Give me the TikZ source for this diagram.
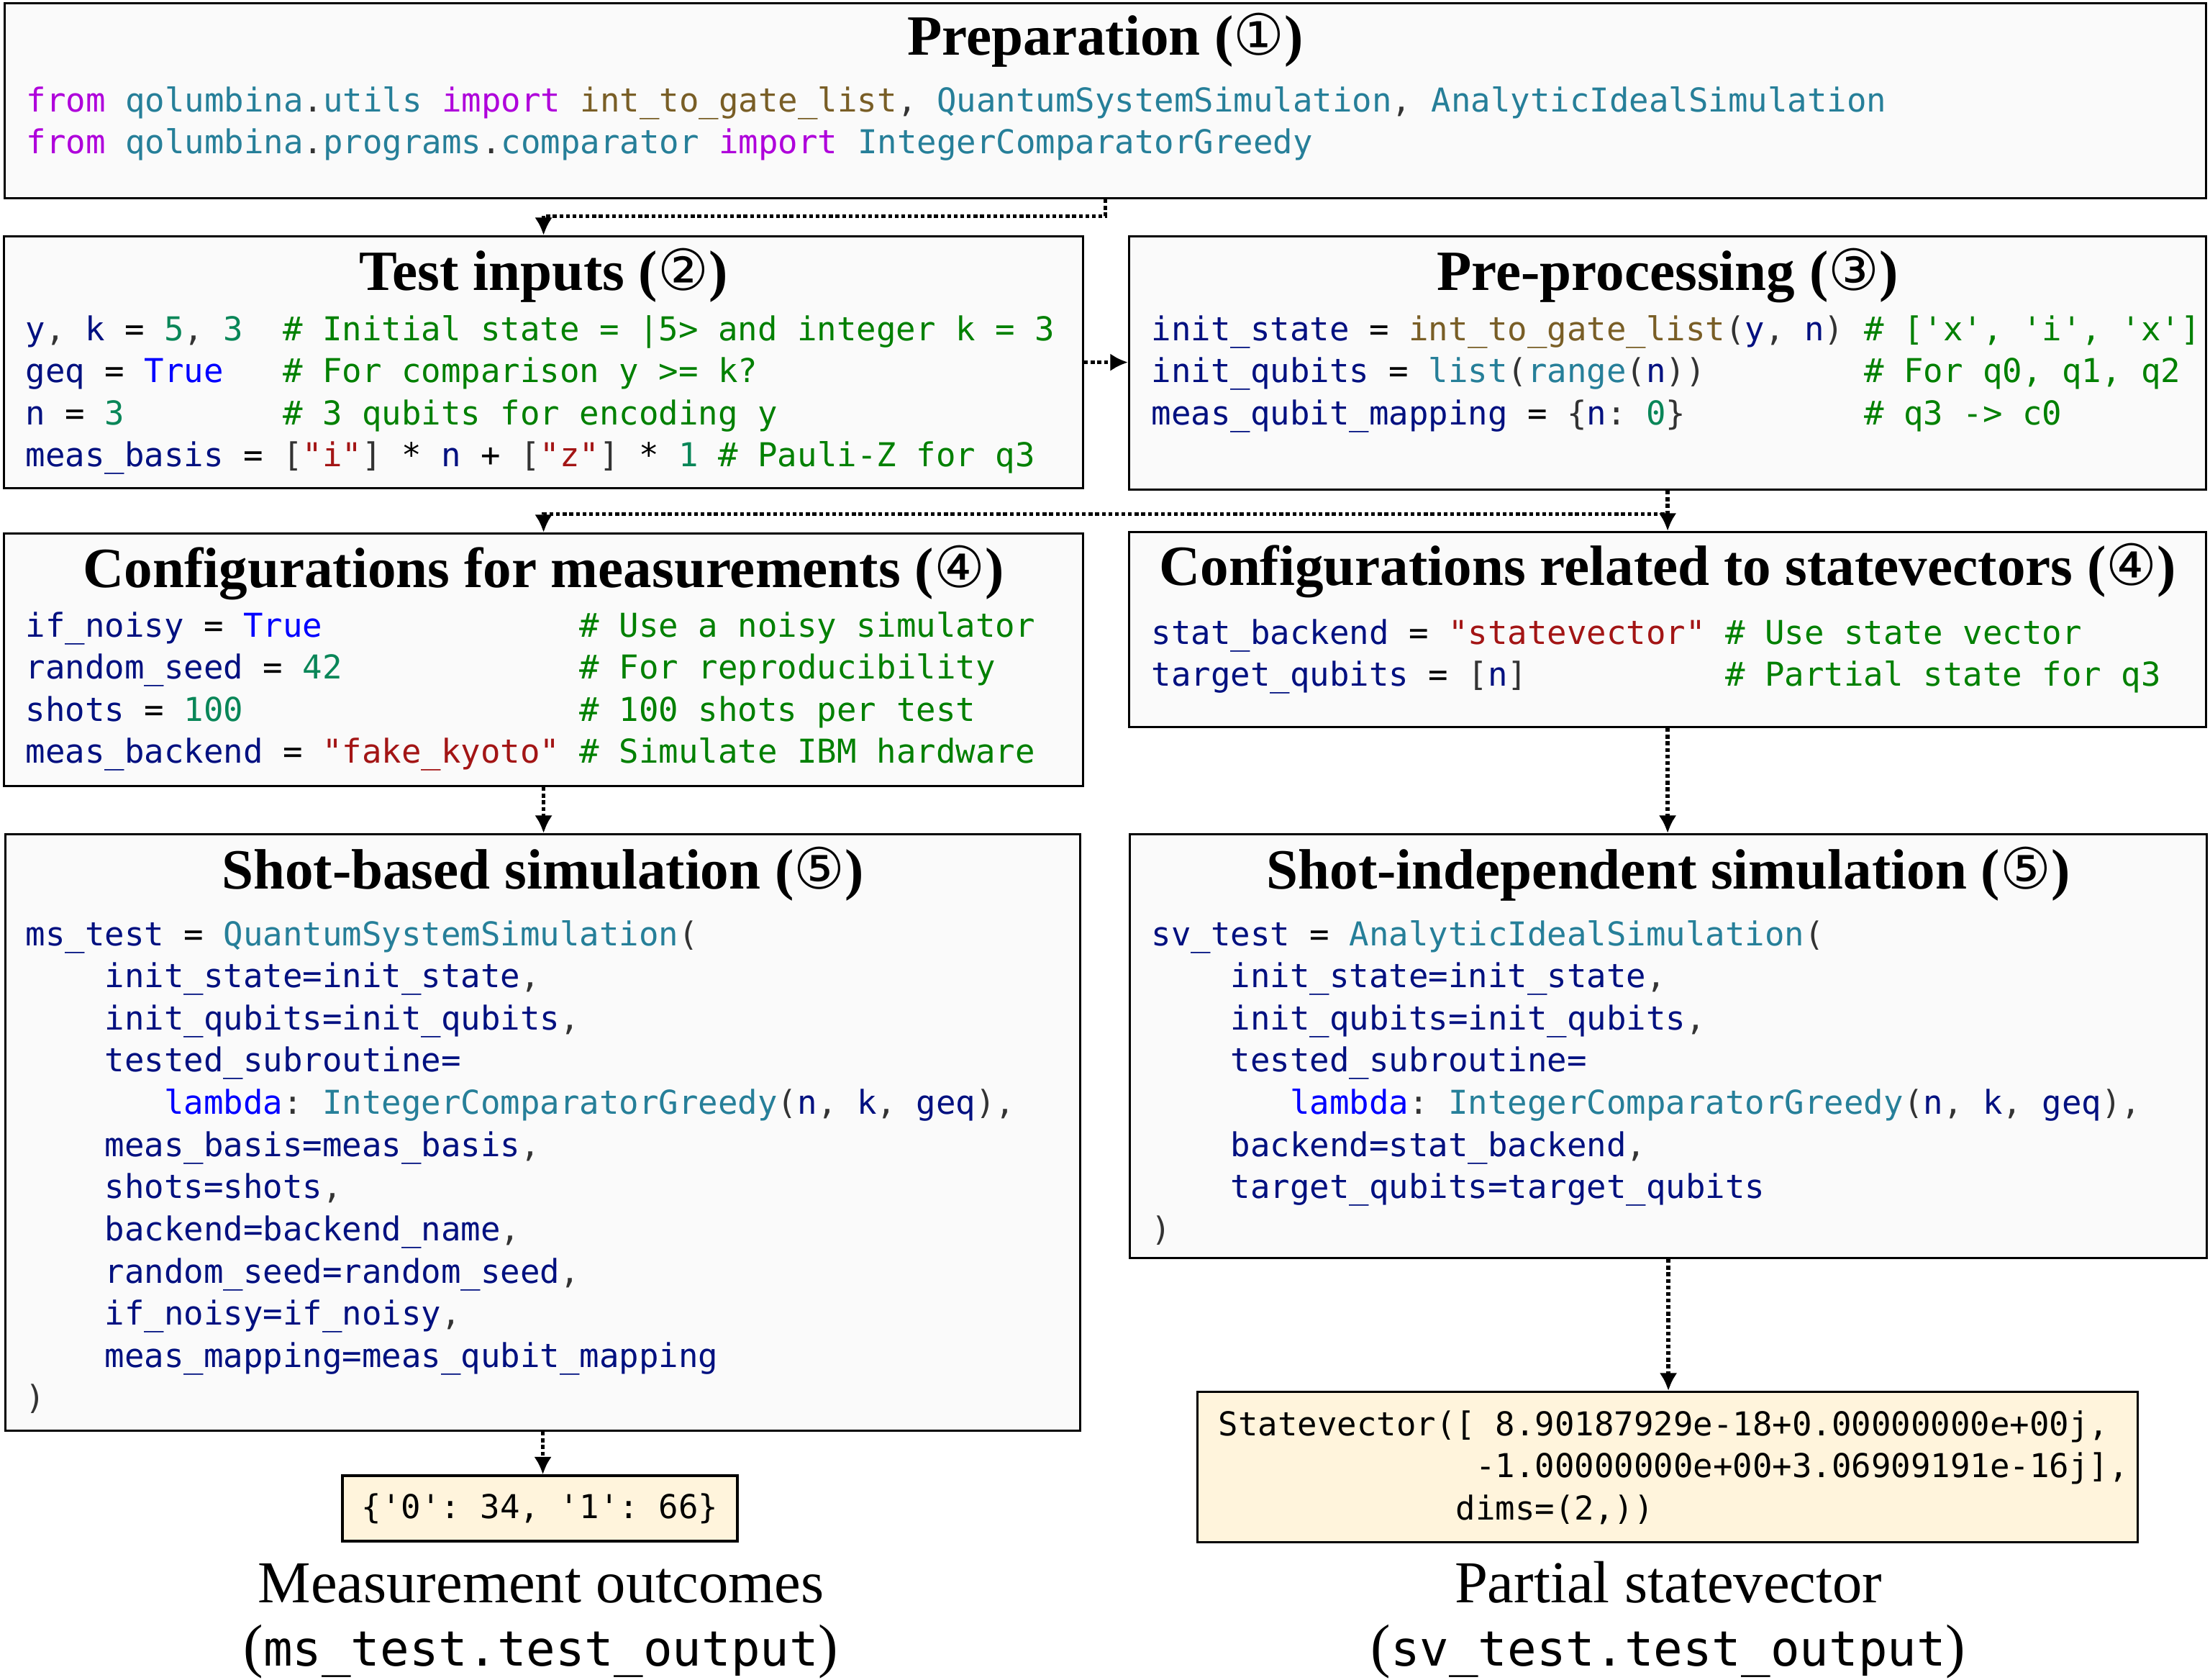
\documentclass[tikz,border=0pt]{standalone}
\usepackage{fontspec}
\setmainfont{Liberation Serif}
\setmonofont{DejaVu Sans Mono}
\newfontfamily\numfont{DejaVu Sans}
\usetikzlibrary{arrows.meta}

\definecolor{kwcol}{HTML}{AF00DB}
\definecolor{varcol}{HTML}{001080}
\definecolor{fncol}{HTML}{795E26}
\definecolor{clscol}{HTML}{267F99}
\definecolor{numcol}{HTML}{098658}
\definecolor{strcol}{HTML}{A31515}
\definecolor{comcol}{HTML}{008000}
\definecolor{cstcol}{HTML}{0000FF}
\definecolor{puncol}{HTML}{333333}
\definecolor{boxfill}{HTML}{FAFAFA}
\definecolor{outfill}{HTML}{FFF4DC}

\newcommand{\ckw}[1]{\textcolor{kwcol}{#1}}
\newcommand{\cvar}[1]{\textcolor{varcol}{#1}}
\newcommand{\cfn}[1]{\textcolor{fncol}{#1}}
\newcommand{\ccls}[1]{\textcolor{clscol}{#1}}
\newcommand{\cnum}[1]{\textcolor{numcol}{#1}}
\newcommand{\cstr}[1]{\textcolor{strcol}{#1}}
\newcommand{\ccom}[1]{\textcolor{comcol}{#1}}
\newcommand{\ccst}[1]{\textcolor{cstcol}{#1}}
\newcommand{\cpun}[1]{\textcolor{puncol}{#1}}
\newcommand{\stepno}[1]{{\numfont\mdseries #1}}
\newcommand{\stagefont}{\fontsize{22.5}{26}\selectfont\bfseries}
\newcommand{\codefont}{\fontsize{13}{16.68}\selectfont\ttfamily}
\newcommand{\capfont}{\fontsize{23.5}{27}\selectfont}
\newcommand{\capcode}{\fontsize{19.2}{22}\selectfont\ttfamily}

\begin{document}
\begin{tikzpicture}[
    stage/.style={draw, line width=0.9pt, fill=boxfill, inner sep=0pt, anchor=north west},
    result/.style={draw, line width=0.9pt, fill=outfill, inner sep=0pt, anchor=north west, font=\codefont},
    title/.style={anchor=base, inner sep=0pt, font=\stagefont},
    code/.style={anchor=base west, inner sep=0pt, font=\codefont},
    outlabel/.style={anchor=base, inner sep=0pt, font=\capfont},
    flow/.style={line width=1.5pt, dash pattern=on 1.5pt off 1.1pt, -{Latex[length=7pt,width=7pt]}}]
\useasboundingbox (0,0) rectangle (30.72,-23.34);

% boxes
\node[stage, minimum width=30.60cm, minimum height=2.71cm] (prep) at (0.05,-0.03) {};
\node[stage, minimum width=15.00cm, minimum height=3.50cm] (test) at (0.04,-3.27) {};
\node[stage, minimum width=14.97cm, minimum height=3.52cm] (pre) at (15.68,-3.27) {};
\node[stage, minimum width=15.00cm, minimum height=3.51cm] (cmeas) at (0.04,-7.40) {};
\node[stage, minimum width=14.97cm, minimum height=2.71cm] (csv) at (15.68,-7.38) {};
\node[stage, minimum width=14.94cm, minimum height=8.29cm] (shot) at (0.06,-11.58) {};
\node[stage, minimum width=14.97cm, minimum height=5.89cm] (indep) at (15.69,-11.58) {};
\node[result, minimum width=5.49cm, minimum height=0.91cm, anchor=center] (counts) at (7.505,-20.965) {\{'0': 34, '1': 66\}};
\node[result, minimum width=13.07cm, minimum height=2.09cm] (svout) at (16.63,-19.33) {};

% titles
\node[title] (preptitle) at ([yshift=-0.73cm]prep.north) {Preparation (\stepno{①})};
\node[title] (testtitle) at ([yshift=-0.76cm]test.north) {Test inputs (\stepno{②})};
\node[title] (pretitle) at ([yshift=-0.76cm]pre.north) {Pre-processing (\stepno{③})};
\node[title] (cmeastitle) at ([yshift=-0.76cm]cmeas.north) {Configurations for measurements (\stepno{④})};
\node[title] (csvtitle) at ([yshift=-0.75cm]csv.north) {Configurations related to statevectors (\stepno{④})};
\node[title] (shottitle) at ([yshift=-0.77cm]shot.north) {Shot-based simulation (\stepno{⑤})};
\node[title] (indeptitle) at ([yshift=-0.77cm]indep.north) {Shot-independent simulation (\stepno{⑤})};

% code
\node[code] (prepcode) at (0.36,-1.55) {\begin{tabular}[t]{@{}l@{}}
\ckw{from} \ccls{qolumbina}\cpun{.}\ccls{utils} \ckw{import} \cfn{int\_to\_gate\_list}\cpun{,} \ccls{QuantumSystemSimulation}\cpun{,} \ccls{AnalyticIdealSimulation}\\
\ckw{from} \ccls{qolumbina}\cpun{.}\ccls{programs}\cpun{.}\ccls{comparator} \ckw{import} \ccls{IntegerComparatorGreedy}
\end{tabular}};
\node[code] (testcode) at (0.35,-4.73) {\begin{tabular}[t]{@{}l@{}}
\cvar{y}\cpun{,} \cvar{k} = \cnum{5}\cpun{,} \cnum{3}~~\ccom{\# Initial state = |5> and integer k = 3}\\
\cvar{geq} = \ccst{True}~~~\ccom{\# For comparison y >= k?}\\
\cvar{n} = \cnum{3}~~~~~~~~\ccom{\# 3 qubits for encoding y}\\
\cvar{meas\_basis} = \cpun{[}\cstr{"i"}\cpun{]} * \cvar{n} + \cpun{[}\cstr{"z"}\cpun{]} * \cnum{1} \ccom{\# Pauli-Z for q3}
\end{tabular}};
\node[code] (precode) at (16.00,-4.73) {\begin{tabular}[t]{@{}l@{}}
\cvar{init\_state} = \cfn{int\_to\_gate\_list}\cpun{(}\cvar{y}\cpun{,} \cvar{n}\cpun{)} \ccom{\# ['x', 'i', 'x']}\\
\cvar{init\_qubits} = \ccls{list}\cpun{(}\ccls{range}\cpun{(}\cvar{n}\cpun{))}~~~~~~~~\ccom{\# For q0, q1, q2}\\
\cvar{meas\_qubit\_mapping} = \cpun{\{}\cvar{n}\cpun{:} \cnum{0}\cpun{\}}~~~~~~~~~\ccom{\# q3 -> c0}
\end{tabular}};
\node[code] (cmeascode) at (0.35,-8.85) {\begin{tabular}[t]{@{}l@{}}
\cvar{if\_noisy} = \ccst{True}~~~~~~~~~~~~~\ccom{\# Use a noisy simulator}\\
\cvar{random\_seed} = \cnum{42}~~~~~~~~~~~~\ccom{\# For reproducibility}\\
\cvar{shots} = \cnum{100}~~~~~~~~~~~~~~~~~\ccom{\# 100 shots per test}\\
\cvar{meas\_backend} = \cstr{"fake\_kyoto"} \ccom{\# Simulate IBM hardware}
\end{tabular}};
\node[code] (csvcode) at (16.00,-8.95) {\begin{tabular}[t]{@{}l@{}}
\cvar{stat\_backend} = \cstr{"statevector"} \ccom{\# Use state vector}\\
\cvar{target\_qubits} = \cpun{[}\cvar{n}\cpun{]}~~~~~~~~~~\ccom{\# Partial state for q3}
\end{tabular}};
\node[code] (shotcode) at (0.35,-13.14) {\begin{tabular}[t]{@{}l@{}}
\cvar{ms\_test} = \ccls{QuantumSystemSimulation}\cpun{(}\\
~~~~\cvar{init\_state=init\_state}\cpun{,}\\
~~~~\cvar{init\_qubits=init\_qubits}\cpun{,}\\
~~~~\cvar{tested\_subroutine=}\\
~~~~~~~\ccst{lambda}\cpun{:} \ccls{IntegerComparatorGreedy}\cpun{(}\cvar{n}\cpun{,} \cvar{k}\cpun{,} \cvar{geq}\cpun{),}\\
~~~~\cvar{meas\_basis=meas\_basis}\cpun{,}\\
~~~~\cvar{shots=shots}\cpun{,}\\
~~~~\cvar{backend=backend\_name}\cpun{,}\\
~~~~\cvar{random\_seed=random\_seed}\cpun{,}\\
~~~~\cvar{if\_noisy=if\_noisy}\cpun{,}\\
~~~~\cvar{meas\_mapping=meas\_qubit\_mapping}\\
\cpun{)}
\end{tabular}};
\node[code] (indepcode) at (16.00,-13.14) {\begin{tabular}[t]{@{}l@{}}
\cvar{sv\_test} = \ccls{AnalyticIdealSimulation}\cpun{(}\\
~~~~\cvar{init\_state=init\_state}\cpun{,}\\
~~~~\cvar{init\_qubits=init\_qubits}\cpun{,}\\
~~~~\cvar{tested\_subroutine=}\\
~~~~~~~\ccst{lambda}\cpun{:} \ccls{IntegerComparatorGreedy}\cpun{(}\cvar{n}\cpun{,} \cvar{k}\cpun{,} \cvar{geq}\cpun{),}\\
~~~~\cvar{backend=stat\_backend}\cpun{,}\\
~~~~\cvar{target\_qubits=target\_qubits}\\
\cpun{)}
\end{tabular}};
\node[code] (svtext) at (16.93,-19.95) {\begin{tabular}[t]{@{}l@{}}
Statevector([ 8.90187929e-18+0.00000000e+00j,\\
~~~~~~~~~~~~~-1.00000000e+00+3.06909191e-16j],\\
~~~~~~~~~~~~dims=(2,))
\end{tabular}};

% outputs
\node[outlabel] (meastext) at (7.52,-22.27) {Measurement outcomes};
\node[outlabel] (meascode) at (7.52,-23.15) {({\capcode ms\_test.test\_output})};
\node[outlabel] (svlabel) at (23.19,-22.27) {Partial statevector};
\node[outlabel] (svcode) at (23.19,-23.15) {({\capcode sv\_test.test\_output})};

% arrows
\draw[flow] (prep.south) -- ++(0,-0.23) -| (test.north);
\draw[flow] (test.east) -- (test.east -| pre.west);
\draw[flow] (pre.south) -- ++(0,-0.32) -| (cmeas.north);
\draw[flow] (pre.south) -- (csv.north);
\draw[flow] (cmeas.south) -- (cmeas.south |- shot.north);
\draw[flow] (csv.south) -- (csv.south |- indep.north);
\draw[flow] (shot.south) -- (shot.south |- counts.north);
\draw[flow] (indep.south) -- (indep.south |- svout.north);
\end{tikzpicture}
\end{document}
